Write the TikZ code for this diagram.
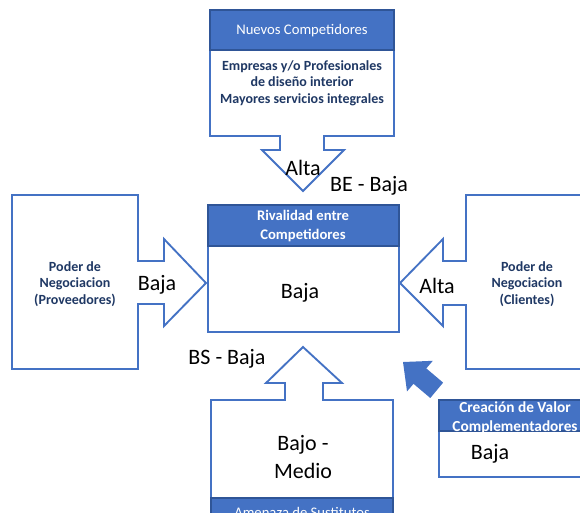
\documentclass[tikz,border=0pt]{standalone}
\usepackage{fontspec}
\setmainfont{Carlito}
\definecolor{ol}{HTML}{4472C4}
\definecolor{hdr}{HTML}{2F5597}
\definecolor{navy}{HTML}{1F3864}
\begin{document}
\begin{tikzpicture}[x=0.75pt,y=-0.75pt,
  outl/.style={draw=ol,line width=1.4pt,line join=miter,fill=white},
  hdrbox/.style={fill=ol,draw=hdr,line width=0.9pt},
  big/.style={font=\fontsize{16.5}{20}\selectfont,text=black,inner sep=0pt},
  navytxt/.style={font=\fontsize{10.5}{12.4}\selectfont\bfseries,text=navy,align=center,inner sep=0pt},
  whitetxt/.style={font=\fontsize{11}{14}\selectfont,text=white,align=center,inner sep=0pt},
  whitebold/.style={font=\fontsize{11}{14}\selectfont\bfseries,text=white,align=center,inner sep=0pt}]
\useasboundingbox (0,0) rectangle (580,512);
\clip (0,0) rectangle (580,512);
% top: new competitors
\draw[outl] (210,10) -- (394,10) -- (394,136) -- (324,136) -- (324,150) -- (344,150) -- (303,191) -- (262,150) -- (280,150) -- (280,136) -- (210,136) -- cycle;
\draw[hdrbox] (210,10) rectangle (394,50);
\node[whitetxt] (tnh) at (302,31) {Nuevos Competidores};
\node[navytxt] (tnb) at (302,83) {Empresas y/o Profesionales\\de diseño interior\\Mayores servicios integrales};
% left: suppliers
\draw[outl] (12,195) -- (138,195) -- (138,261) -- (164,261) -- (164,239) -- (206,283) -- (164,326) -- (164,304) -- (138,304) -- (138,369) -- (12,369) -- cycle;
\node[navytxt] (lp) at (75,284) {Poder de\\Negociacion\\(Proveedores)};
% right: clients
\draw[outl] (600,195) -- (466,195) -- (466,261) -- (443,261) -- (443,239) -- (400,283) -- (443,326) -- (443,305) -- (466,305) -- (466,369) -- (600,369) -- cycle;
\node[navytxt] (rp) at (527,284) {Poder de\\Negociacion\\(Clientes)};
% bottom: substitutes
\draw[outl] (211,530) -- (211,400) -- (285,400) -- (285,383) -- (266,383) -- (303,347) -- (342,383) -- (323,383) -- (323,400) -- (393,400) -- (393,530);
\draw[hdrbox] (211,498) rectangle (393,530);
\node[whitetxt] (bh) at (302,512) {Amenaza de Sustitutos};
\node[big,align=center,font=\fontsize{16.5}{20.5}\selectfont] (bm) at (303,457) {Bajo -\\Medio};
% center: rivalry
\draw[outl] (208,205) rectangle (399,332);
\draw[hdrbox] (208,205) rectangle (399,246);
\node[whitebold] (ch) at (303,226) {Rivalidad entre\\Competidores};
\node[big] (cb) at (300,293) {Baja};
% complementors
\draw[outl] (439,400) rectangle (600,477);
\draw[hdrbox] (439,400) rectangle (600,431);
\node[whitebold,font=\fontsize{11.5}{14.5}\selectfont\bfseries] (kh) at (515,418) {Creación de Valor\\Complementadores};
\node[big] (kb) at (490,454) {Baja};
% blue block arrow
\fill[ol] (403,362) -- (432.8,360.8) -- (426.3,368.4) -- (443.1,382.6) -- (430.3,398) -- (413.5,383.8) -- (407,391.4) -- cycle;
% labels
\node[big] (la) at (303,168) {Alta};
\node[big] (lbe) at (369,186) {BE - Baja};
\node[big] (lbl) at (157,285) {Baja};
\node[big] (lar) at (437,286) {Alta};
\node[big] (lbs) at (227,359) {BS - Baja};
\end{tikzpicture}
\end{document}
